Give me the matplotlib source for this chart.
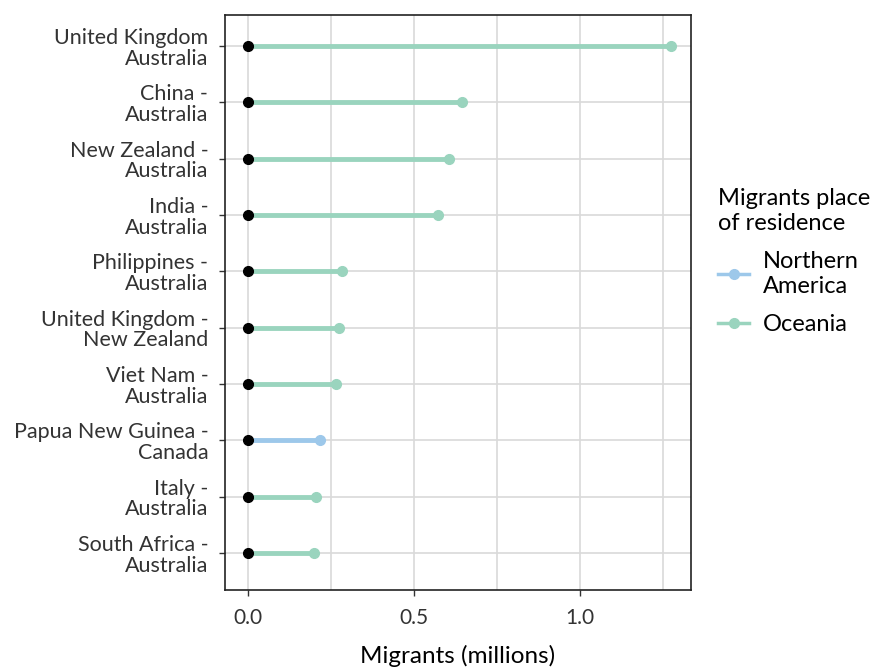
import matplotlib
matplotlib.use("Agg")
import matplotlib.pyplot as plt
from matplotlib.lines import Line2D
from matplotlib.transforms import ScaledTranslation

plt.rcParams['font.family'] = ['Lato', 'DejaVu Sans']

labels = ["United Kingdom\nAustralia", "China -\nAustralia", "New Zealand -\nAustralia",
          "India -\nAustralia", "Philippines -\nAustralia", "United Kingdom -\nNew Zealand",
          "Viet Nam -\nAustralia", "Papua New Guinea -\nCanada", "Italy -\nAustralia",
          "South Africa -\nAustralia"]
values = [1.274, 0.645, 0.605, 0.572, 0.283, 0.274, 0.265, 0.217, 0.205, 0.199]
regions = ["Oceania", "Oceania", "Oceania", "Oceania", "Oceania", "Oceania",
           "Oceania", "Northern America", "Oceania", "Oceania"]
colors = {"Northern America": "#9DC8EA", "Oceania": "#9AD4BE"}

fig = plt.figure(figsize=(8.77, 6.67), dpi=100)
ax = fig.add_axes([225/877, 1-590/667, (691-225)/877, (590-15)/667])

ypos = list(range(1, len(labels)+1))
for y, v, r in zip(ypos, values, regions):
    ax.plot([0, v], [y, y], color=colors[r], lw=3.5, solid_capstyle='butt', zorder=3)
    ax.plot([v], [y], 'o', color=colors[r], ms=7, zorder=4)
    ax.plot([0], [y], 'o', color='black', ms=7, zorder=5)

ax.set_xlim(-0.069, 1.334)
ax.set_ylim(10.66, 0.45)
ax.set_yticks(ypos)
ax.set_yticklabels(labels, fontsize=15.5, color='#333333', ha='right', linespacing=1.05)
off = ScaledTranslation(0, 4/100, fig.dpi_scale_trans)
for lab in ax.get_yticklabels():
    lab.set_transform(lab.get_transform() + off)
ax.set_xticks([0, 0.5, 1.0])
ax.set_xticklabels(["0.0", "0.5", "1.0"], fontsize=15, color='#333333')
ax.set_xticks([0.25, 0.75, 1.25], minor=True)
ax.grid(True, which='both', color='#D9D9D9', lw=1.2, zorder=0)
ax.tick_params(axis='x', which='minor', length=0)
ax.tick_params(axis='both', which='major', length=4, color='#333333', width=1)
ax.tick_params(axis='x', pad=9)
ax.tick_params(axis='y', pad=8)
for s in ax.spines.values():
    s.set_color('#222222')
    s.set_linewidth(1.2)
ax.set_xlabel("Migrants (millions)", fontsize=17.5, labelpad=12, color='black')

handles = [Line2D([0], [0], color=colors[k], lw=2.5, marker='o', ms=7) for k in ["Northern America", "Oceania"]]
leg = fig.legend(handles, ["Northern\nAmerica", "Oceania"], title="Migrants place\nof residence",
                 loc='upper left', bbox_to_anchor=(697/877, 1-167/667), frameon=False,
                 fontsize=17, title_fontsize=17, handlelength=1.3, handletextpad=0.6,
                 labelspacing=0.75, alignment='left')

fig.savefig("out.png", dpi=100)
